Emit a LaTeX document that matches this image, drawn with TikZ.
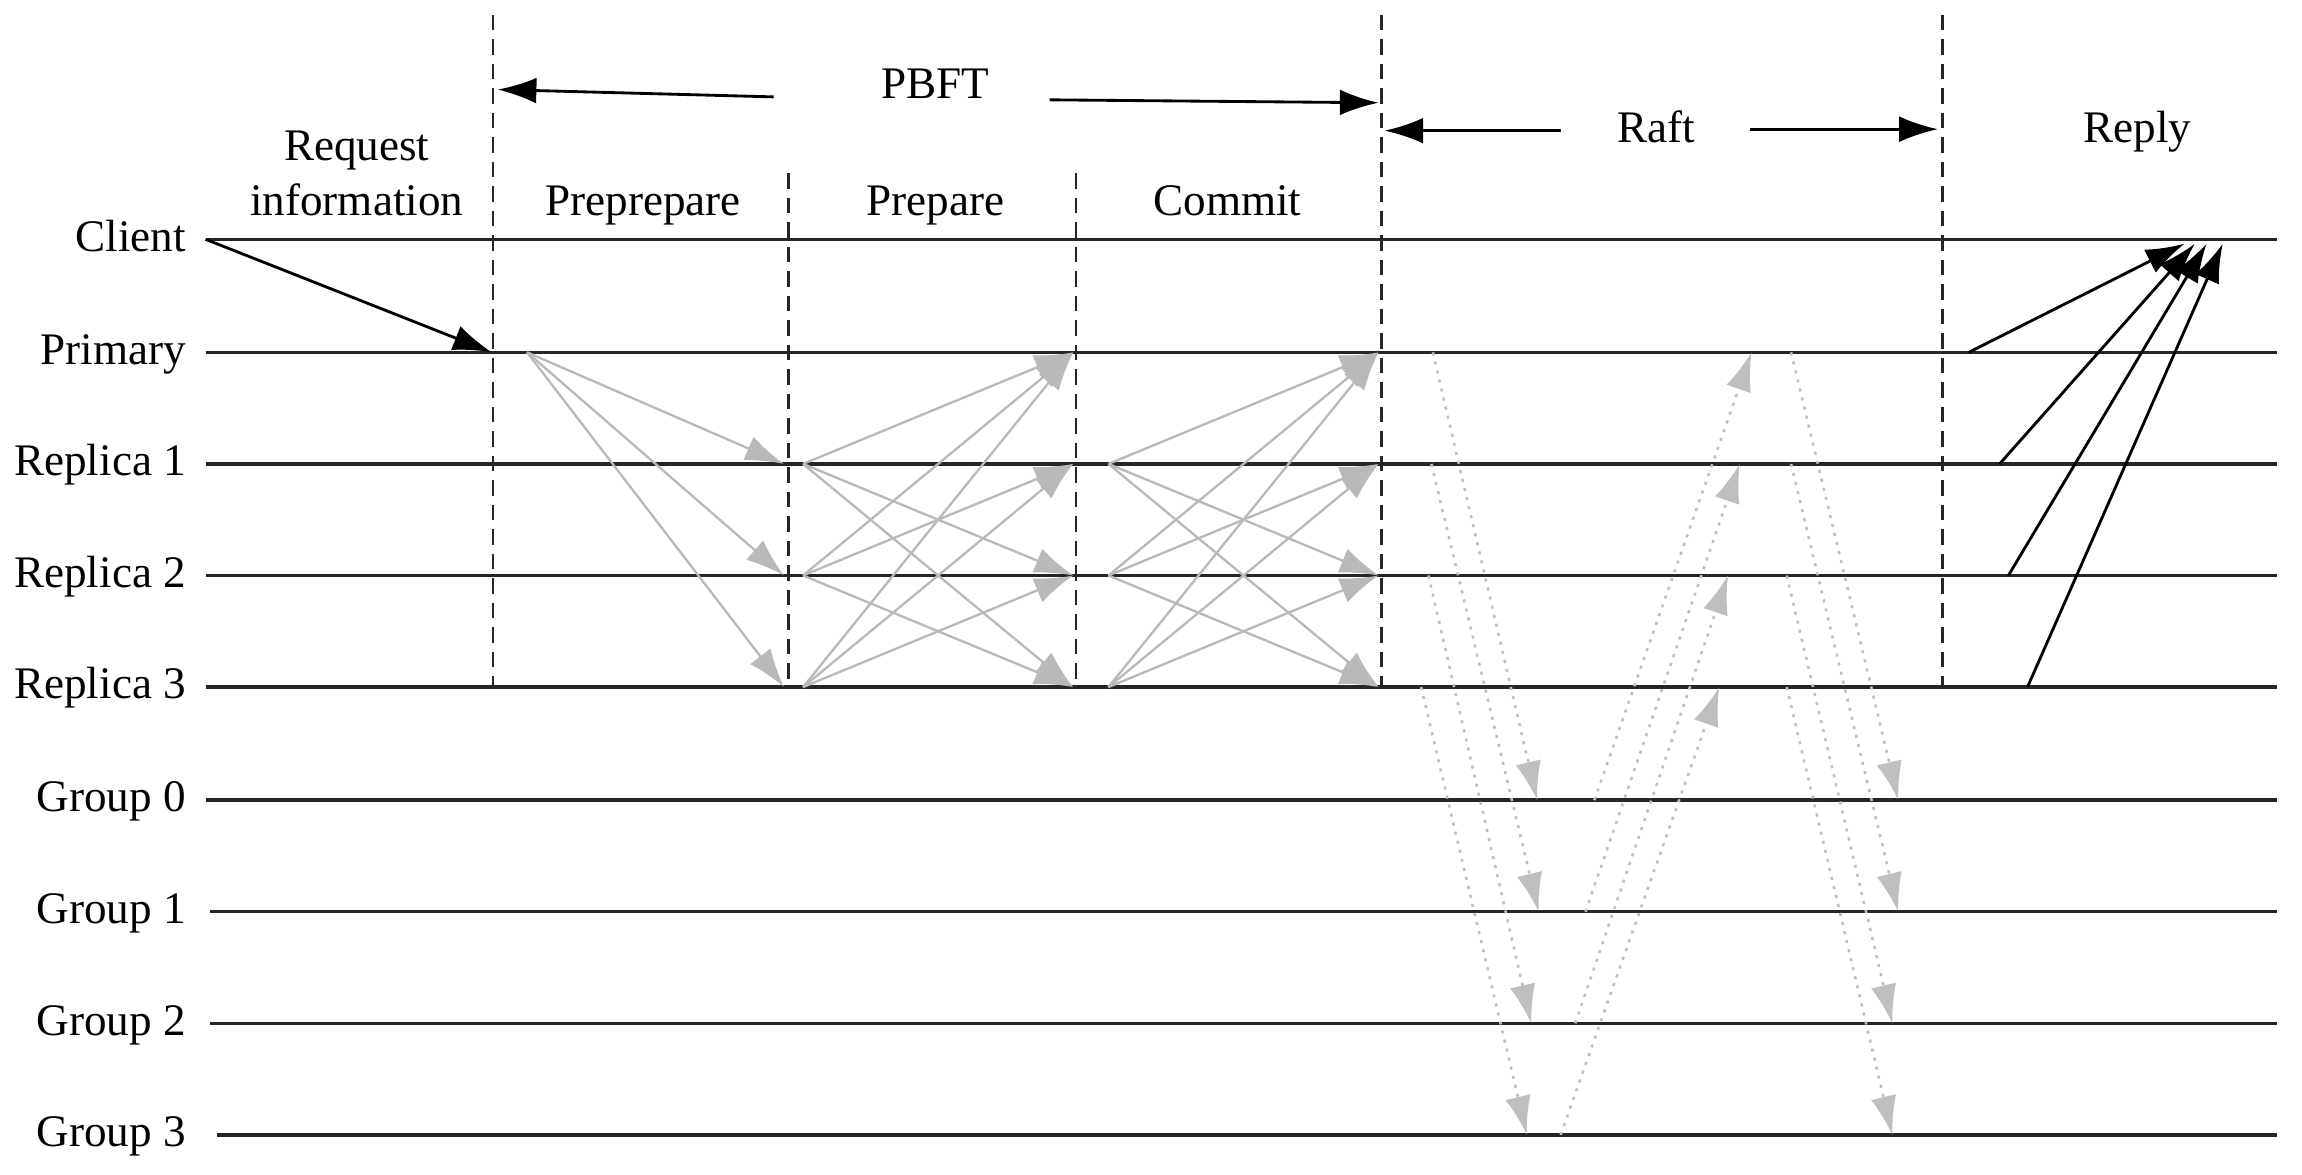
\documentclass[tikz,border=0pt]{standalone}
\usepackage{fontspec}
\setmainfont{Liberation Serif}
\usetikzlibrary{arrows.meta}

\tikzset{
  lane/.style={line width=1.3pt,black!85},
  phase/.style={line width=0.9pt,black!85,dash pattern=on 6pt off 3.5pt},
  rowlabel/.style={anchor=base east,inner sep=0pt},
  phlabel/.style={anchor=base,inner sep=0pt},
  msg/.style={line width=1.1pt,-{Latex[length=15pt,width=10pt]}},
  vote/.style={line width=0.9pt,gray!55,-{Latex[length=15pt,width=10pt]}},
  sync/.style={line width=1pt,gray!50,dash pattern=on 1.2pt off 2.4pt,-{Latex[length=15pt,width=10pt]}}
}

\begin{document}
\begin{tikzpicture}[x=0.02cm,y=-0.02cm,font=\fontsize{17.5}{21.5}\selectfont]
  \useasboundingbox (0,0) rectangle (1568,800);
  % lanes
  \foreach \nm/\txt/\y/\x in {client/Client/163/140,primary/Primary/240/140,
      rep1/Replica 1/316/140,rep2/Replica 2/392/140,rep3/Replica 3/468/140,
      grp0/Group 0/545/140,grp1/Group 1/621/143,grp2/Group 2/697/143,grp3/Group 3/773/148}{
    \node[rowlabel] (lbl-\nm) at (127,\y+8) {\txt};
    \coordinate (\nm-w) at (\x,\y);
    \coordinate (\nm-e) at (1551,\y);
    \draw[lane] (\nm-w) -- (\nm-e);
  }
  % phase borders
  \foreach \i/\x/\top in {0/336/10,1/537/118,2/733/118,3/941/10,4/1323/10}{
    \coordinate (ph\i-n) at (\x,\top);
    \coordinate (ph\i-s) at (\x,468);
    \draw[phase] (ph\i-n) -- (ph\i-s);
  }
  % phase names
  \node[phlabel] (req1) at (243,109) {Request};
  \node[phlabel] (req2) at (243,147) {information};
  \node[phlabel] (pre) at (438,147) {Preprepare};
  \node[phlabel] (prep) at (637,147) {Prepare};
  \node[phlabel] (com) at (836,147) {Commit};
  \node[phlabel] (pbft) at (637,67) {PBFT};
  \node[phlabel] (raft) at (1128,97) {Raft};
  \node[phlabel] (reply) at (1456,97) {Reply};
  \coordinate (pbft-la) at (527,66);
  \coordinate (pbft-lb) at (339,61);
  \coordinate (pbft-ra) at (715,68);
  \coordinate (pbft-rb) at (939,70);
  \coordinate (raft-la) at (1063,89);
  \coordinate (raft-lb) at (943,89);
  \coordinate (raft-ra) at (1192,88);
  \coordinate (raft-rb) at (1320,88);
  \draw[msg] (pbft-la) -- (pbft-lb);
  \draw[msg] (pbft-ra) -- (pbft-rb);
  \draw[msg] (raft-la) -- (raft-lb);
  \draw[msg] (raft-ra) -- (raft-rb);
  % request
  \coordinate (req-in) at (335,240);
  \draw[msg] (client-w) -- (req-in);
  % pbft messages
  \coordinate (pp-out) at (359,240);
  \foreach \k/\y in {0/240,1/316,2/392,3/468}{
    \coordinate (pp-in\k) at (534,\y);
    \coordinate (pr-out\k) at (547,\y);
    \coordinate (pr-in\k) at (731,\y);
    \coordinate (cm-out\k) at (755,\y);
    \coordinate (cm-in\k) at (939,\y);
  }
  \foreach \t in {1,2,3} \draw[vote] (pp-out) -- (pp-in\t);
  \foreach \s in {1,2,3}{
    \foreach \t in {0,1,2,3}{
      \ifnum\s=\t\else
        \draw[vote] (pr-out\s) -- (pr-in\t);
        \draw[vote] (cm-out\s) -- (cm-in\t);
      \fi
    }
  }
  % raft messages
  \foreach \k/\ya/\yb/\xa/\xb/\xc/\xd/\xe/\xf in {0/240/545/976/1047/1086/1193/1220/1293,
      1/316/621/975/1048/1080/1185/1220/1293,2/392/697/973/1043/1073/1177/1217/1289,
      3/468/773/968/1040/1063/1171/1217/1289}{
    \coordinate (ld-out\k) at (\xa,\ya);
    \coordinate (ld-in\k) at (\xb,\yb);
    \coordinate (ack-out\k) at (\xc,\yb);
    \coordinate (ack-in\k) at (\xd,\ya);
    \coordinate (cf-out\k) at (\xe,\ya);
    \coordinate (cf-in\k) at (\xf,\yb);
    \draw[sync] (ld-out\k) -- (ld-in\k);
    \draw[sync] (ack-out\k) -- (ack-in\k);
    \draw[sync] (cf-out\k) -- (cf-in\k);
  }
  % reply
  \foreach \k/\y/\xs/\xt in {0/240/1341/1488,1/316/1362/1495,2/392/1368/1503,3/468/1381/1514}{
    \coordinate (rp-out\k) at (\xs,\y);
    \coordinate (rp-in\k) at (\xt,166);
    \draw[msg] (rp-out\k) -- (rp-in\k);
  }
\end{tikzpicture}
\end{document}
